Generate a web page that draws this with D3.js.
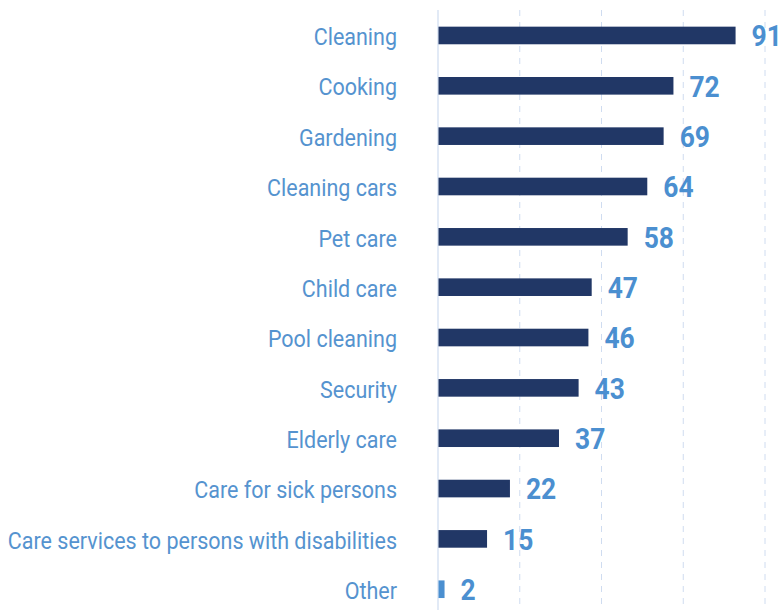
<!DOCTYPE html>
<html>
<head>
<meta charset="utf-8">
<script src="https://cdn.jsdelivr.net/npm/d3@7"></script>
<style>
  body { margin: 0; background: #fff; }
  svg { display: block; }
</style>
</head>
<body>
<svg id="chart"></svg>
<script>
// data
const categories = ["Cleaning", "Cooking", "Gardening", "Cleaning cars", "Pet care", "Child care",
  "Pool cleaning", "Security", "Elderly care", "Care for sick persons",
  "Care services to persons with disabilities", "Other"];
const values = [91, 72, 69, 64, 58, 47, 46, 43, 37, 22, 15, 2];
const gridTicks = [25, 50, 75, 100];

let data = categories.map((c, i) => ({ cat: c, val: values[i] }));

let config = { width: 780, height: 610 };
config.left = 438;
config.right = 765;
config.top = 10.3;
config.bottom = 614.4;

let svg = d3.select("#chart")
  .attr("width", config.width)
  .attr("height", config.height);

let x = d3.scaleLinear()
  .domain([0, 100])
  .range([config.left, config.right]);

let y = d3.scaleBand()
  .domain(categories)
  .range([config.top, config.bottom])
  .paddingInner(0.65)
  .paddingOuter(0.325);

// dashed gridlines
svg.append("g")
  .attr("class", "grid")
  .selectAll("line")
  .data(gridTicks)
  .enter()
  .append("line")
  .attr("x1", d => x(d))
  .attr("x2", d => x(d))
  .attr("y1", 10)
  .attr("y2", config.height)
  .style("stroke", "#cfdcf0")
  .style("stroke-width", 1)
  .style("stroke-dasharray", "6,6");

// zero axis line
svg.append("line")
  .attr("x1", x(0))
  .attr("x2", x(0))
  .attr("y1", 10)
  .attr("y2", config.height)
  .style("stroke", "#cfdcf0")
  .style("stroke-width", 1.2);

// bars
svg.append("g")
  .attr("id", "bars")
  .selectAll("rect")
  .data(data)
  .enter()
  .append("rect")
  .attr("x", x(0) + 0.5)
  .attr("y", d => y(d.cat))
  .attr("width", d => x(d.val) - x(0) - 0.5)
  .attr("height", y.bandwidth())
  .style("fill", d => d.cat === "Other" ? "#4b8fd0" : "#213766");

// category labels (squeezed a little to mimic a condensed face)
svg.append("g")
  .attr("id", "labels")
  .selectAll("text")
  .data(data)
  .enter()
  .append("text")
  .attr("transform", d => `translate(397, ${y(d.cat) + y.bandwidth() / 2}) scale(0.935, 1)`)
  .attr("dy", "0.42em")
  .attr("text-anchor", "end")
  .style("font-family", "Roboto, sans-serif")
  .style("font-size", "23px")
  .style("fill", "#5593cf")
  .text(d => d.cat);

// value labels
svg.append("g")
  .attr("id", "values")
  .selectAll("text")
  .data(data)
  .enter()
  .append("text")
  .attr("transform", d => `translate(${x(d.val) + 16}, ${y(d.cat) + y.bandwidth() / 2}) scale(0.88, 1)`)
  .attr("dy", "0.36em")
  .style("font-family", "Roboto, sans-serif")
  .style("font-weight", 700)
  .style("font-size", "30px")
  .style("fill", "#4b8fd0")
  .text(d => d.val);
</script>
</body>
</html>
